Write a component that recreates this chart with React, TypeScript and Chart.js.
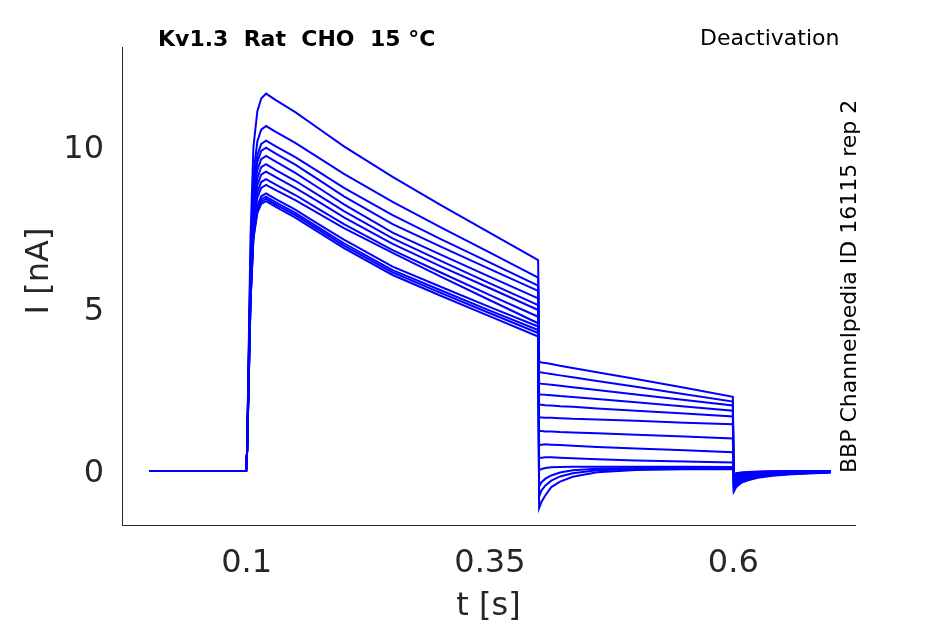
import React, { useEffect, useRef } from 'react';
import { Chart, registerables } from 'chart.js';

Chart.register(...registerables);

// sample times [s]
const timeS = [
  0, 0.0995, 0.1005, 0.102, 0.104, 0.107, 0.111, 0.115, 0.12, 0.13, 0.15, 0.175, 0.2, 0.25, 0.3, 0.35, 0.3995,
  0.4005, 0.403, 0.407, 0.413, 0.422, 0.435, 0.46, 0.5, 0.55, 0.5995,
  0.6005, 0.603, 0.608, 0.615, 0.625, 0.64, 0.66, 0.7,
];

// current [nA] per sweep
const sweep01 = [0, 0, 0.6, 3.5, 7.2, 10.0, 11.1, 11.5, 11.65, 11.45, 11.08, 10.55, 10.02, 9.08, 8.2, 7.35, 6.51, 3.37, 3.35, 3.33, 3.30, 3.25, 3.18, 3.05, 2.84, 2.57, 2.29, -0.64, -0.50, -0.37, -0.29, -0.21, -0.15, -0.10, -0.05];
const sweep02 = [0, 0, 0.6, 3.2, 6.6, 9.16, 10.17, 10.54, 10.65, 10.47, 10.13, 9.65, 9.17, 8.31, 7.51, 6.74, 5.97, 3.05, 3.04, 3.02, 2.99, 2.95, 2.89, 2.78, 2.60, 2.37, 2.14, -0.58, -0.45, -0.33, -0.26, -0.19, -0.13, -0.09, -0.04];
const sweep03 = [0, 0, 0.6, 3.1, 6.3, 8.77, 9.74, 10.1, 10.2, 10.02, 9.69, 9.22, 8.74, 7.9, 7.15, 6.43, 5.72, 2.70, 2.69, 2.68, 2.66, 2.63, 2.58, 2.50, 2.36, 2.19, 2.02, -0.52, -0.40, -0.30, -0.23, -0.17, -0.12, -0.08, -0.04];
const sweep04 = [0, 0, 0.6, 3.0, 6.2, 8.58, 9.53, 9.88, 9.98, 9.80, 9.46, 8.97, 8.48, 7.62, 6.92, 6.23, 5.56, 2.37, 2.36, 2.35, 2.34, 2.31, 2.28, 2.22, 2.12, 1.99, 1.86, -0.47, -0.36, -0.27, -0.21, -0.15, -0.11, -0.07, -0.03];
const sweep05 = [0, 0, 0.6, 2.9, 6.0, 8.37, 9.29, 9.63, 9.73, 9.55, 9.20, 8.72, 8.23, 7.36, 6.67, 5.99, 5.33, 2.04, 2.04, 2.03, 2.02, 2.00, 1.98, 1.93, 1.86, 1.77, 1.68, -0.42, -0.32, -0.24, -0.18, -0.13, -0.09, -0.06, -0.03];
const sweep06 = [0, 0, 0.6, 2.8, 5.9, 8.14, 9.04, 9.38, 9.47, 9.29, 8.96, 8.49, 8.02, 7.18, 6.48, 5.79, 5.12, 1.65, 1.65, 1.64, 1.64, 1.63, 1.61, 1.59, 1.55, 1.49, 1.44, -0.37, -0.28, -0.21, -0.16, -0.11, -0.08, -0.05, -0.02];
const sweep07 = [0, 0, 0.6, 2.8, 5.7, 7.95, 8.82, 9.15, 9.24, 9.07, 8.74, 8.29, 7.83, 7.01, 6.31, 5.64, 4.97, 1.23, 1.23, 1.22, 1.22, 1.20, 1.19, 1.16, 1.12, 1.06, 1.00, -0.32, -0.24, -0.18, -0.13, -0.09, -0.06, -0.04, -0.02];
const sweep08 = [0, 0, 0.6, 2.7, 5.6, 7.75, 8.6, 8.92, 9.01, 8.84, 8.52, 8.07, 7.62, 6.82, 6.12, 5.43, 4.76, 0.80, 0.81, 0.82, 0.81, 0.80, 0.78, 0.74, 0.69, 0.64, 0.58, -0.27, -0.20, -0.15, -0.11, -0.08, -0.05, -0.03, -0.01];
const sweep09 = [0, 0, 0.6, 2.6, 5.5, 7.59, 8.43, 8.74, 8.83, 8.67, 8.36, 7.93, 7.50, 6.73, 5.99, 5.27, 4.56, 0.39, 0.41, 0.42, 0.42, 0.41, 0.39, 0.36, 0.32, 0.29, 0.26, -0.22, -0.16, -0.12, -0.09, -0.06, -0.04, -0.02, -0.01];
const sweep10 = [0, 0, 0.6, 2.6, 5.3, 7.37, 8.18, 8.48, 8.57, 8.39, 8.07, 7.60, 7.14, 6.31, 5.68, 5.06, 4.46, 0.02, 0.06, 0.09, 0.11, 0.12, 0.13, 0.13, 0.13, 0.13, 0.12, -0.18, -0.13, -0.09, -0.07, -0.05, -0.03, -0.02, 0];
const sweep11 = [0, 0, 0.6, 2.5, 5.3, 7.28, 8.09, 8.39, 8.47, 8.29, 7.97, 7.50, 7.03, 6.2, 5.57, 4.95, 4.35, -0.48, -0.35, -0.24, -0.14, -0.05, 0.02, 0.07, 0.09, 0.09, 0.09, -0.14, -0.10, -0.07, -0.05, -0.03, -0.02, -0.01, 0];
const sweep12 = [0, 0, 0.6, 2.5, 5.2, 7.22, 8.02, 8.32, 8.40, 8.22, 7.90, 7.43, 6.96, 6.13, 5.49, 4.87, 4.26, -0.79, -0.60, -0.45, -0.30, -0.17, -0.07, 0.02, 0.06, 0.07, 0.07, -0.12, -0.08, -0.06, -0.04, -0.03, -0.02, -0.01, 0];
const sweep13 = [0, 0, 0.6, 2.5, 5.2, 7.16, 7.96, 8.25, 8.33, 8.15, 7.82, 7.35, 6.88, 6.05, 5.40, 4.77, 4.15, -1.15, -0.95, -0.75, -0.50, -0.33, -0.18, -0.04, 0.03, 0.05, 0.06, -0.10, -0.07, -0.05, -0.03, -0.02, -0.01, 0, 0];

const sweeps = [sweep01, sweep02, sweep03, sweep04, sweep05, sweep06, sweep07, sweep08, sweep09, sweep10, sweep11, sweep12, sweep13];

const xTicks = [0.1, 0.35, 0.6];
const yTicks = [0, 5, 10];

const titleLeft = 'Kv1.3  Rat  CHO  15 °C';
const titleRight = 'Deactivation';
const sideLabel = 'BBP Channelpedia ID 16115 rep 2';
const yTitle = 'I [nA]';
const xTitle = 't [s]';

const axisColor = '#262626';

const figureText = {
  id: 'figureText',
  afterDraw(chart: any) {
    const ctx = chart.ctx;
    ctx.save();
    ctx.fillStyle = '#000';
    ctx.textBaseline = 'middle';
    ctx.textAlign = 'left';
    ctx.font = 'bold 22px "DejaVu Sans"';
    ctx.fillText(titleLeft, 158, 40);
    ctx.font = '22px "DejaVu Sans"';
    ctx.fillText(titleRight, 700, 39);
    ctx.save();
    ctx.translate(850, 473);
    ctx.rotate(-Math.PI / 2);
    ctx.fillText(sideLabel, 0, 0);
    ctx.restore();
    // y axis label
    ctx.fillStyle = axisColor;
    ctx.font = '32px "DejaVu Sans"';
    ctx.textAlign = 'center';
    ctx.translate(40, 271);
    ctx.rotate(-Math.PI / 2);
    ctx.fillText(yTitle, 0, 0);
    ctx.restore();
  },
};

const App = () => {
  const canvasRef = useRef<HTMLCanvasElement | null>(null);

  useEffect(() => {
    if (!canvasRef.current) return;
    Chart.defaults.font.family = '"DejaVu Sans"';

    const chart = new Chart(canvasRef.current, {
      type: 'line',
      data: {
        datasets: sweeps.map((sweep) => ({
          data: timeS.map((t, i) => ({ x: t, y: sweep[i] })),
          borderColor: '#0000ff',
          borderWidth: 2,
          pointRadius: 0,
          tension: 0,
          fill: false,
        })),
      },
      options: {
        responsive: false,
        animation: false,
        events: [],
        layout: { padding: { left: 0, top: 47, right: 90, bottom: 0 } },
        plugins: {
          legend: { display: false },
          tooltip: { enabled: false },
        },
        scales: {
          x: {
            type: 'linear',
            min: -0.028,
            max: 0.725,
            afterBuildTicks: (s: any) => {
              s.ticks = xTicks.map((v) => ({ value: v }));
            },
            afterFit: (s: any) => {
              s.height = 99;
            },
            grid: { display: false, drawTicks: false },
            border: { display: true, color: axisColor, width: 1 },
            ticks: {
              color: axisColor,
              font: { size: 32 },
              padding: 19,
              maxRotation: 0,
              autoSkip: false,
              callback: (v: any) => String(v),
            },
            title: {
              display: true,
              text: xTitle,
              color: axisColor,
              font: { size: 32, lineHeight: 1 },
              padding: { top: 0, bottom: 1 },
            },
          },
          y: {
            type: 'linear',
            min: -1.67,
            max: 13.09,
            afterBuildTicks: (s: any) => {
              s.ticks = yTicks.map((v) => ({ value: v }));
            },
            afterFit: (s: any) => {
              s.width = 122;
            },
            grid: { display: false, drawTicks: false },
            border: { display: true, color: axisColor, width: 1 },
            ticks: {
              color: axisColor,
              font: { size: 32 },
              padding: 18,
              labelOffset: 3,
              callback: (v: any) => String(v),
            },
          },
        },
      },
      plugins: [figureText],
    });

    return () => {
      chart.destroy();
    };
  }, []);

  return (
    <div style={{ position: 'fixed', left: 0, top: 0, width: 945, height: 624, background: '#fff' }}>
      <canvas ref={canvasRef} width={945} height={624} />
    </div>
  );
};

export default App;
